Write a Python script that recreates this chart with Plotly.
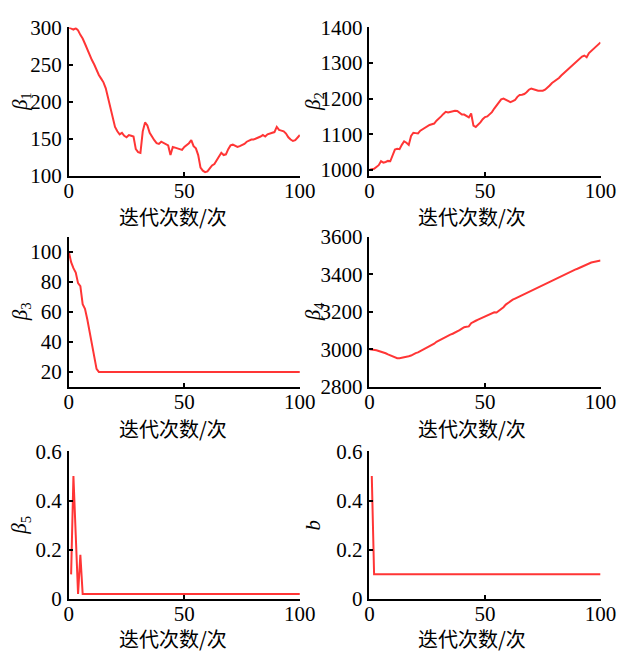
import plotly.graph_objects as go

# ---------------- data ----------------
iter_a = list(range(0, 101))      # panels beta1..beta4
iter_b = list(range(1, 101))      # panels beta5, b

beta1 = [300, 298, 297, 299, 296, 290, 285, 278, 270, 262,
         256, 250, 242, 236, 231, 226, 218, 204, 190, 176,
         166, 160, 156, 158, 154, 152, 155, 154, 153, 136,
         132, 131, 160, 172, 168, 158, 152, 148, 144, 143,
         146, 144, 142, 141, 128, 139, 138, 137, 136, 135,
         139, 141, 144, 148, 140, 137, 128, 111, 107, 105,
         106, 110, 114, 116, 121, 127, 131, 128, 129, 136,
         141, 142, 140, 139, 140, 141, 143, 146, 148, 149,
         149, 150, 151, 153, 155, 153, 156, 157, 158, 159,
         166, 162, 161, 160, 157, 152, 149, 147, 148, 151,
         155]

beta2 = [1000, 1002, 1003, 1008, 1013, 1024, 1020, 1022, 1025, 1024,
         1040, 1057, 1059, 1058, 1070, 1080, 1076, 1070, 1095, 1104,
         1103, 1102, 1110, 1114, 1119, 1123, 1126, 1128, 1130, 1138,
         1143, 1150, 1157, 1163, 1161, 1163, 1164, 1166, 1165, 1161,
         1155, 1155, 1152, 1147, 1158, 1124, 1120, 1126, 1133, 1142,
         1148, 1150, 1155, 1162, 1172, 1180, 1187, 1198, 1200, 1197,
         1192, 1190, 1193, 1196, 1205, 1210, 1211, 1213, 1218, 1225,
         1228, 1227, 1224, 1222, 1221, 1222, 1225, 1230, 1237, 1244,
         1248, 1253, 1258, 1265, 1271, 1277, 1283, 1290, 1296, 1302,
         1307, 1313, 1318, 1321, 1316, 1328, 1334, 1340, 1346, 1352,
         1358]

beta3 = [100, 93, 89, 86, 79, 77, 65, 62, 55, 46,
         37, 30, 22, 20, 20, 20, 20, 20, 20, 20,
         20, 20, 20, 20, 20, 20, 20, 20, 20, 20,
         20, 20, 20, 20, 20, 20, 20, 20, 20, 20,
         20, 20, 20, 20, 20, 20, 20, 20, 20, 20,
         20, 20, 20, 20, 20, 20, 20, 20, 20, 20,
         20, 20, 20, 20, 20, 20, 20, 20, 20, 20,
         20, 20, 20, 20, 20, 20, 20, 20, 20, 20,
         20, 20, 20, 20, 20, 20, 20, 20, 20, 20,
         20, 20, 20, 20, 20, 20, 20, 20, 20, 20,
         20]

beta4 = [3000, 2999, 2998, 2995, 2991, 2988, 2985, 2979, 2973, 2968,
         2962, 2957, 2953, 2953, 2955, 2956, 2958, 2963, 2967, 2975,
         2980, 2984, 2990, 2996, 3002, 3009, 3016, 3023, 3030, 3040,
         3047, 3053, 3061, 3068, 3073, 3078, 3083, 3088, 3094, 3102,
         3110, 3118, 3120, 3122, 3139, 3147, 3152, 3158, 3164, 3168,
         3174, 3180, 3186, 3192, 3197, 3196, 3205, 3214, 3224, 3238,
         3248, 3256, 3264, 3270, 3276, 3282, 3290, 3295, 3300, 3306,
         3312, 3318, 3325, 3332, 3338, 3344, 3350, 3356, 3362, 3367,
         3372, 3378, 3385, 3392, 3397, 3402, 3407, 3412, 3418, 3424,
         3429, 3435, 3440, 3446, 3452, 3458, 3462, 3465, 3468, 3471,
         3473]

beta5 = [0.10, 0.50, 0.26, 0.02, 0.18, 0.02, 0.02, 0.02, 0.02, 0.02,
         0.02, 0.02, 0.02, 0.02, 0.02, 0.02, 0.02, 0.02, 0.02, 0.02,
         0.02, 0.02, 0.02, 0.02, 0.02, 0.02, 0.02, 0.02, 0.02, 0.02,
         0.02, 0.02, 0.02, 0.02, 0.02, 0.02, 0.02, 0.02, 0.02, 0.02,
         0.02, 0.02, 0.02, 0.02, 0.02, 0.02, 0.02, 0.02, 0.02, 0.02,
         0.02, 0.02, 0.02, 0.02, 0.02, 0.02, 0.02, 0.02, 0.02, 0.02,
         0.02, 0.02, 0.02, 0.02, 0.02, 0.02, 0.02, 0.02, 0.02, 0.02,
         0.02, 0.02, 0.02, 0.02, 0.02, 0.02, 0.02, 0.02, 0.02, 0.02,
         0.02, 0.02, 0.02, 0.02, 0.02, 0.02, 0.02, 0.02, 0.02, 0.02,
         0.02, 0.02, 0.02, 0.02, 0.02, 0.02, 0.02, 0.02, 0.02, 0.02]

b_vals = [0.5, 0.1, 0.1, 0.1, 0.1, 0.1, 0.1, 0.1, 0.1, 0.1,
          0.1, 0.1, 0.1, 0.1, 0.1, 0.1, 0.1, 0.1, 0.1, 0.1,
          0.1, 0.1, 0.1, 0.1, 0.1, 0.1, 0.1, 0.1, 0.1, 0.1,
          0.1, 0.1, 0.1, 0.1, 0.1, 0.1, 0.1, 0.1, 0.1, 0.1,
          0.1, 0.1, 0.1, 0.1, 0.1, 0.1, 0.1, 0.1, 0.1, 0.1,
          0.1, 0.1, 0.1, 0.1, 0.1, 0.1, 0.1, 0.1, 0.1, 0.1,
          0.1, 0.1, 0.1, 0.1, 0.1, 0.1, 0.1, 0.1, 0.1, 0.1,
          0.1, 0.1, 0.1, 0.1, 0.1, 0.1, 0.1, 0.1, 0.1, 0.1,
          0.1, 0.1, 0.1, 0.1, 0.1, 0.1, 0.1, 0.1, 0.1, 0.1,
          0.1, 0.1, 0.1, 0.1, 0.1, 0.1, 0.1, 0.1, 0.1, 0.1]

x_ticks = [0, 50, 100]
x_title = "迭代次数/次"
y_titles = ["<i>β</i><sub>1</sub>", "<i>β</i><sub>2</sub>", "<i>β</i><sub>3</sub>",
            "<i>β</i><sub>4</sub>", "<i>β</i><sub>5</sub>", "<i>b</i>"]
y_ranges = [[100, 300], [983, 1400], [10, 110], [2800, 3600], [0, 0.6], [0, 0.6]]
y_dticks = [50, 100, 20, 200, 0.2, 0.2]

series = [(iter_a, beta1), (iter_a, beta2), (iter_a, beta3),
          (iter_a, beta4), (iter_b, beta5), (iter_b, b_vals)]

# ---------------- layout geometry ----------------
W, H = 632, 663
col_px = [(66, 305), (377, 616)]
row_px = [(16, 170), (233, 389), (456, 609)]
ytitle_x_px = [16, 319]
xtitle_x_px = [174, 483]
xtitle_y_px = [212, 432, 650]

LINE = "#ff3535"
SERIF = "Liberation Serif, Times New Roman, serif"
CJK = "Noto Sans CJK SC, sans-serif"

fig = go.Figure()
annotations = []
layout = {}
for i, (xs, ys) in enumerate(series):
    r, c = divmod(i, 2)
    n = i + 1
    xa = "x" if n == 1 else f"x{n}"
    ya = "y" if n == 1 else f"y{n}"
    fig.add_trace(go.Scatter(x=xs, y=ys, mode="lines", xaxis=xa, yaxis=ya,
                             line=dict(color=LINE, width=2), showlegend=False,
                             hoverinfo="skip"))
    x0, x1 = col_px[c]
    top, bot = row_px[r]
    axis_common = dict(showline=True, linecolor="black", linewidth=1.5,
                       ticks="inside", ticklen=4, tickwidth=1.5, tickcolor="black",
                       showgrid=False, zeroline=False, mirror=False,
                       tickfont=dict(family=SERIF, size=21, color="black"))
    layout["xaxis" if n == 1 else f"xaxis{n}"] = dict(
        domain=[x0 / W, x1 / W], anchor=ya, range=[0, 100],
        tickvals=x_ticks, ticklabelstandoff=-5, **axis_common)
    layout["yaxis" if n == 1 else f"yaxis{n}"] = dict(
        domain=[1 - bot / H, 1 - top / H], anchor=xa, range=y_ranges[i],
        dtick=y_dticks[i], tick0=0, ticklabelstandoff=1, **axis_common)
    annotations.append(dict(text=y_titles[i], xref="paper", yref="paper",
                            x=ytitle_x_px[c] / W, y=1 - (top + bot) / 2 / H,
                            xanchor="center", yanchor="middle", textangle=-90,
                            showarrow=False,
                            font=dict(family=SERIF, size=21, color="black")))
    annotations.append(dict(text=x_title, xref="paper", yref="paper",
                            x=xtitle_x_px[c] / W, y=1 - xtitle_y_px[r] / H,
                            xanchor="center", yanchor="middle", showarrow=False,
                            font=dict(family=CJK, size=20, color="black")))

fig.update_layout(width=W, height=H, margin=dict(l=0, r=0, t=0, b=0),
                  paper_bgcolor="white", plot_bgcolor="white",
                  annotations=annotations, **layout)
fig.write_html("out.html")
